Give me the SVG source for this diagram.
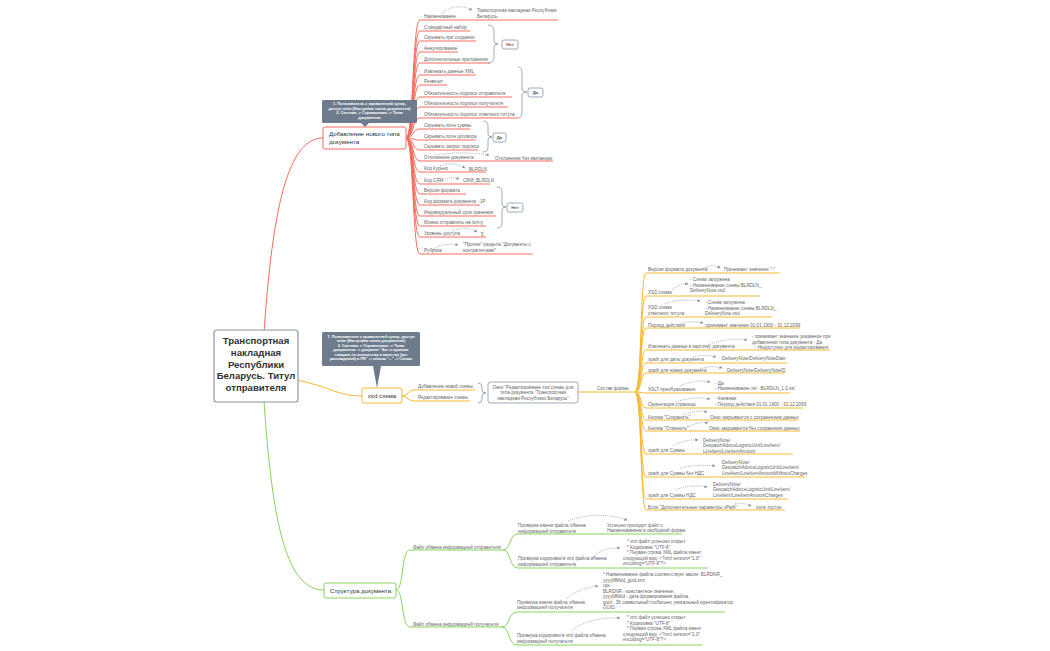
<svg xmlns="http://www.w3.org/2000/svg" width="1050" height="651" viewBox="0 0 1050 651">
<style>
.t{font-family:"Liberation Sans",Arial,sans-serif;font-size:4.6px;fill:#666}
.n{font-family:"Liberation Sans",Arial,sans-serif;font-size:6.2px;fill:#333}
.c{font-family:"Liberation Sans",Arial,sans-serif;font-size:3.8px;font-weight:bold;fill:#fff;text-anchor:middle}
.lb{font-family:"Liberation Sans",Arial,sans-serif;font-size:4.4px;font-weight:bold;fill:#555;text-anchor:middle}
.r{stroke:#f36c5e;fill:none;stroke-width:1}
.o{stroke:#f8b834;fill:none;stroke-width:1}
.g{stroke:#86d35f;fill:none;stroke-width:1}
.d{stroke:#8796aa;fill:none;stroke-width:0.8;stroke-dasharray:1 1.1;marker-end:url(#ah)}
.br{stroke:#8796aa;fill:none;stroke-width:0.8}
.bx{fill:#fff;stroke:#8796aa;stroke-width:0.8}
.co{fill:#6e7b8c}
</style>
<defs>
<marker id="ah" viewBox="0 0 6 6" refX="5" refY="3" markerWidth="4" markerHeight="4" orient="auto"><path d="M0,0 L6,3 L0,6 z" fill="#8796aa"/></marker>
</defs>
<rect width="1050" height="651" fill="#fff"/>
<g id="connectors">
<path class="r" stroke-width="2.6" d="M262 366 C270 220 285 138 323 138"/>
<path class="o" stroke-width="2.4" d="M285 378 C330 385 335 396 362 396"/>
<path class="g" stroke-width="2.6" d="M262 366 C270 520 285 590 324 590"/>
<!-- red fan -->
<path class="r" d="M406 138 C414 138 412 20 420 20 L558 20"/>
<path class="r" d="M406 138 C414 138 412 31 420 31 L470 31"/>
<path class="r" d="M406 138 C414 138 412 41 420 41 L476 41"/>
<path class="r" d="M406 138 C414 138 412 52 420 52 L458 52"/>
<path class="r" d="M406 138 C414 138 412 63 420 63 L490 63"/>
<path class="r" d="M406 138 C414 138 412 75 420 75 L476 75"/>
<path class="r" d="M406 138 C414 138 412 85 420 85 L447 85"/>
<path class="r" d="M406 138 C414 138 412 97 420 97 L512 97"/>
<path class="r" d="M406 138 C414 138 412 107 420 107 L508 107"/>
<path class="r" d="M406 138 C414 138 412 118 420 118 L518 118"/>
<path class="r" d="M406 138 C414 138 412 129 420 129 L470 129"/>
<path class="r" d="M406 138 C414 138 412 140 420 140 L476 140"/>
<path class="r" d="M406 138 C414 138 412 150 420 150 L478 150"/>
<path class="r" d="M406 138 C414 138 412 161 420 161 L553 161"/>
<path class="r" d="M406 138 C414 138 412 172 420 172 L486 172"/>
<path class="r" d="M406 138 C414 138 412 184 420 184 L490 184"/>
<path class="r" d="M406 138 C414 138 412 194 420 194 L466 194"/>
<path class="r" d="M406 138 C414 138 412 205 420 205 L480 205"/>
<path class="r" d="M406 138 C414 138 412 216 420 216 L496 216"/>
<path class="r" d="M406 138 C414 138 412 226 420 226 L486 226"/>
<path class="r" d="M406 138 C414 138 412 237 420 237 L486 237"/>
<path class="r" d="M406 138 C414 138 412 254 420 254 L533 254"/>
<!-- xsd fan -->
<path class="o" d="M402 396 C408 396 408 390 414 390 L475 390"/>
<path class="o" d="M402 396 C408 396 408 401 414 401 L470 401"/>
<path class="o" stroke-width="1.2" d="M578 392 L635 392"/>
<!-- orange fan -->
<path class="o" stroke-width="1.1" d="M635 392 C642 392 640 273 646 273 L780 273"/>
<path class="o" stroke-width="1.1" d="M635 392 C642 392 640 296 646 296 L760 296"/>
<path class="o" stroke-width="1.1" d="M635 392 C642 392 640 317 646 317 L772 317"/>
<path class="o" stroke-width="1.1" d="M635 392 C642 392 640 328 646 328 L800 328"/>
<path class="o" stroke-width="1.1" d="M635 392 C642 392 640 350 646 350 L830 350"/>
<path class="o" stroke-width="1.1" d="M635 392 C642 392 640 363 646 363 L787 363"/>
<path class="o" stroke-width="1.1" d="M635 392 C642 392 640 373 646 373 L785 373"/>
<path class="o" stroke-width="1.1" d="M635 392 C642 392 640 393 646 393 L790 393"/>
<path class="o" stroke-width="1.1" d="M635 392 C642 392 640 408 646 408 L803 408"/>
<path class="o" stroke-width="1.1" d="M635 392 C642 392 640 420 646 420 L798 420"/>
<path class="o" stroke-width="1.1" d="M635 392 C642 392 640 431 646 431 L800 431"/>
<path class="o" stroke-width="1.1" d="M635 392 C642 392 640 454 646 454 L793 454"/>
<path class="o" stroke-width="1.1" d="M635 392 C642 392 640 477 646 477 L805 477"/>
<path class="o" stroke-width="1.1" d="M635 392 C642 392 640 499 646 499 L788 499"/>
<path class="o" stroke-width="1.1" d="M635 392 C642 392 640 510 646 510 L785 510"/>
<!-- green fan -->
<path class="g" stroke-width="1.2" d="M396 590 C404 590 401 550 410 550 L503 550"/>
<path class="g" stroke-width="1.2" d="M396 590 C404 590 401 627 410 627 L502 627"/>
<path class="g" d="M503 550 C511 550 509 534 518 534 L682 534"/>
<path class="g" d="M503 550 C511 550 509 568 518 568 L708 568"/>
<path class="g" d="M502 627 C510 627 508 612 517 612 L725 612"/>
<path class="g" d="M502 627 C510 627 508 645 517 645 L702 645"/>
<!-- dotted links -->
<path class="d" d="M441 14 Q455 2 472 10"/>
<path class="d" d="M435 155 Q462 151 489 155"/>
<path class="d" d="M440 166 Q452 161 465 168"/>
<path class="d" d="M445 180 Q452 176 459 179"/>
<path class="d" d="M452 231 Q465 225 477 232"/>
<path class="d" d="M432 250 Q443 242 458 245"/>
<path class="d" d="M703 269 Q712 263 720 268"/>
<path class="d" d="M672 290 Q680 283 688 284"/>
<path class="d" d="M664 304 Q680 298 700 301"/>
<path class="d" d="M680 324 Q692 320 703 323"/>
<path class="d" d="M708 345 Q728 337 747 340"/>
<path class="d" d="M693 357 Q705 354 716 357"/>
<path class="d" d="M700 369 Q712 365 722 368"/>
<path class="d" d="M680 386 Q695 379 710 382"/>
<path class="d" d="M676 402 Q693 396 710 399"/>
<path class="d" d="M684 415 Q696 409 707 412"/>
<path class="d" d="M688 427 Q698 421 708 423"/>
<path class="d" d="M673 446 Q685 439 698 440"/>
<path class="d" d="M680 468 Q697 464 715 466"/>
<path class="d" d="M675 490 Q690 484 707 487"/>
<path class="d" d="M735 504 Q743 502 751 506"/>
<path class="d" d="M568 521 Q597 510 627 520"/>
<path class="d" d="M592 559 Q600 547 620 548"/>
<path class="d" d="M566 599 Q578 588 598 586"/>
<path class="d" d="M572 630 Q590 617 620 618"/>
<!-- braces -->
<path class="br" d="M488 25 Q494 25 494 31 L494 41 Q494 44 498 44 Q494 44 494 47 L494 57 Q494 63 488 63"/>
<path class="br" d="M518 67 Q522 67 522 73 L522 89 Q522 92 527 92 Q522 92 522 95 L522 112 Q522 118 518 118"/>
<path class="br" d="M483 121 Q488 121 488 126 L488 134 Q488 137 492 137 Q488 137 488 140 L488 147 Q488 152 483 152"/>
<path class="br" d="M497 187 Q502 187 502 192 L502 204 Q502 207 506 207 Q502 207 502 210 L502 223 Q502 228 497 228"/>
<path class="br" d="M478 383 Q482 383 482 387 L482 390 Q482 393 486 393 Q482 393 482 396 L482 399 Q482 403 478 403"/>
</g>
<g id="central">
<rect x="214" y="330" width="84" height="72" rx="3" fill="#fff" stroke="#8796aa" stroke-width="1.2"/>
<text x="256" y="344" text-anchor="middle" font-family="Liberation Sans,Arial,sans-serif" font-size="9.6" font-weight="bold" fill="#333"><tspan x="256">Транспортная</tspan><tspan x="256" dy="11.8">накладная</tspan><tspan x="256" dy="11.8">Республики</tspan><tspan x="256" dy="11.8">Беларусь. Титул</tspan><tspan x="256" dy="11.8">отправителя</tspan></text>
</g>
<g id="node-add-type">
<rect x="323" y="127" width="83" height="22" rx="2" fill="#fff" stroke="#f36c5e" stroke-width="1"/>
<text class="n" x="329" y="136">Добавление нового типа</text>
<text class="n" x="329" y="144">документа</text>
</g>
<g id="callout-1">
<rect class="co" x="322" y="100" width="95" height="23" rx="1.5"/>
<path class="co" d="M361 123 L369 123 L365 127 z"/>
<text class="c" x="369.5" y="105">1. Пользователь с привилегией супер,</text>
<text class="c" x="369.5" y="109.5">доступ write (Настройка типов документов)</text>
<text class="c" x="369.5" y="114">2. Система -&gt; Справочники -&gt; Типы</text>
<text class="c" x="369.5" y="118.5">документов</text>
</g>
<g id="red-leaves">
<text class="t" x="424" y="18">Наименование</text>
<text class="t" x="477" y="12">Транспортная накладная Республики</text>
<text class="t" x="477" y="17.5">Беларусь.</text>
<text class="t" x="424" y="29">Стандартный набор</text>
<text class="t" x="424" y="39">Скрывать при создании</text>
<text class="t" x="424" y="50">Аннулирование</text>
<text class="t" x="424" y="61">Дополнительные приложения</text>
<text class="t" x="424" y="73">Извлекать данные XML</text>
<text class="t" x="424" y="83">Реквизит</text>
<text class="t" x="424" y="95">Обязательность подписи отправителя</text>
<text class="t" x="424" y="105">Обязательность подписи получателя</text>
<text class="t" x="424" y="116">Обязательность подписи ответного титула</text>
<text class="t" x="424" y="127">Скрывать поле суммы</text>
<text class="t" x="424" y="138">Скрывать поле договора</text>
<text class="t" x="424" y="148">Скрывать запрос подписи</text>
<text class="t" x="424" y="159">Отклонение документа</text>
<text class="t" x="495" y="159.5">Отклонение без квитанции</text>
<text class="t" x="424" y="170">Код Курьер</text>
<text class="t" x="469" y="170.5">BLRDLN</text>
<text class="t" x="424" y="182">Код CRM</text>
<text class="t" x="463" y="182">CRM_BLRDLN</text>
<text class="t" x="424" y="192">Версия формата</text>
<text class="t" x="424" y="203">Код формата документа - 1P</text>
<text class="t" x="424" y="214">Индивидуальный срок хранения</text>
<text class="t" x="424" y="224">Можно отправлять на почту</text>
<text class="t" x="424" y="235">Уровень доступа</text>
<text class="t" x="481" y="235.5">5</text>
<text class="t" x="424" y="252">Рубрика</text>
<text class="t" x="463" y="246">"Прочие" раздела "Документы с</text>
<text class="t" x="463" y="251.5">контрагентами"</text>
</g>
<g id="label-net-1"><rect class="bx" x="502" y="40" width="16" height="9" rx="2"/><text class="lb" x="510" y="46">Нет</text></g>
<g id="label-da-1"><rect class="bx" x="528" y="88" width="15" height="9" rx="2"/><text class="lb" x="535.5" y="94">Да</text></g>
<g id="label-da-2"><rect class="bx" x="493" y="133" width="13" height="9" rx="2"/><text class="lb" x="499.5" y="139">Да</text></g>
<g id="label-net-2"><rect class="bx" x="507" y="203" width="16" height="9" rx="2"/><text class="lb" x="515" y="209">Нет</text></g>
<g id="callout-2">
<rect class="co" x="322" y="332" width="98" height="34" rx="1.5"/>
<path class="co" d="M373 366 L381 366 L377 388 z"/>
<text class="c" x="371" y="337.5">1. Пользователь с привилегией супер, доступ</text>
<text class="c" x="371" y="342">write (Настройка типов документов)</text>
<text class="c" x="371" y="346.5">2. Система -&gt; Справочники -&gt; Типы</text>
<text class="c" x="371" y="351">документов -&gt; документ "Акт о приемке</text>
<text class="c" x="371" y="355.5">товаров по количеству и качеству (акт</text>
<text class="c" x="371" y="360">расхождений) в РБ" -&gt; кнопка "..." -&gt; Схемы</text>
</g>
<g id="node-xsd">
<rect x="362" y="388" width="40" height="15" rx="2" fill="#fff" stroke="#f8b834" stroke-width="1"/>
<text class="n" x="382" y="397.5" text-anchor="middle">xsd схема</text>
</g>
<g id="xsd-leaves">
<text class="t" x="418" y="388">Добавление новой схемы</text>
<text class="t" x="418" y="399">Редактирование схемы</text>
</g>
<g id="node-window">
<rect class="bx" x="488" y="382" width="90" height="21" rx="2.5"/>
<text class="t" x="533" y="388.5" text-anchor="middle">Окно "Редактирование xsd схемы для</text>
<text class="t" x="533" y="394" text-anchor="middle">типа документа "Транспортная</text>
<text class="t" x="533" y="399.5" text-anchor="middle">накладная Республики Беларусь"</text>
</g>
<g id="form-leaves">
<text class="t" x="597" y="390">Состав формы</text>
<text class="t" x="648" y="271">Версия формата документа</text>
<text class="t" x="724" y="270.5">Принимает значение "-"</text>
<text class="t" x="648" y="294">XSD схема</text>
<text class="t" x="690" y="281">- Схема загружена</text>
<text class="t" x="690" y="286.5">- Наименование схемы BLRDLN_</text>
<text class="t" x="690" y="292">DeliveryNote.xsd</text>
<text class="t" x="648" y="309">XSD схема</text>
<text class="t" x="648" y="315">ответного титула</text>
<text class="t" x="705" y="304">- Схема загружена</text>
<text class="t" x="705" y="309.5">- Наименование схемы BLRDLN_</text>
<text class="t" x="705" y="315">DeliveryNote.xsd</text>
<text class="t" x="648" y="326.5">Период действия</text>
<text class="t" x="705" y="326.5">принимает значение 01.01.1900 - 31.12.2099</text>
<text class="t" x="648" y="348">Извлекать данные в карточку документа</text>
<text class="t" x="752" y="338">- принимает значение указанное при</text>
<text class="t" x="752" y="343.5">добавлении типа документа - Да</text>
<text class="t" x="755" y="349">- Недоступно для редактирования</text>
<text class="t" x="648" y="361">xpath для даты документа</text>
<text class="t" x="722" y="359.5">DeliveryNote/DeliveryNoteDate</text>
<text class="t" x="648" y="371.5">xpath для номер документа</text>
<text class="t" x="727" y="371.5">DeliveryNote/DeliveryNoteID</text>
<text class="t" x="648" y="391">XSLT-преобразование</text>
<text class="t" x="715" y="384.5">- Да</text>
<text class="t" x="715" y="390">- Наименование xsl - BLRDLN_1.0.xsl</text>
<text class="t" x="648" y="406">Ориентация страницы</text>
<text class="t" x="715" y="400">- Книжная</text>
<text class="t" x="715" y="405.5">- Период действия 01.01.1900 - 31.12.2099</text>
<text class="t" x="648" y="418.5">Кнопка "Сохранить"</text>
<text class="t" x="710" y="418.5">Окно закрывается с сохранением данных</text>
<text class="t" x="648" y="429.5">Кнопка "Отменить"</text>
<text class="t" x="709" y="429.5">Окно закрывается без сохранения данных</text>
<text class="t" x="648" y="452">xpath для Суммы</text>
<text class="t" x="703" y="441.5">DeliveryNote/</text>
<text class="t" x="703" y="447">DespatchAdviceLogisticUnit/LineItem/</text>
<text class="t" x="703" y="452.5">LineItem/LineItemAmount</text>
<text class="t" x="648" y="475">xpath для Суммы без НДС</text>
<text class="t" x="722" y="463.5">DeliveryNote/</text>
<text class="t" x="722" y="469">DespatchAdviceLogisticUnit/LineItem/</text>
<text class="t" x="722" y="474.5">LineItem/LineItemAmountWithoutCharges</text>
<text class="t" x="648" y="497">xpath для Суммы НДС</text>
<text class="t" x="713" y="485.5">DeliveryNote/</text>
<text class="t" x="713" y="491">DespatchAdviceLogisticUnit/LineItem/</text>
<text class="t" x="713" y="496.5">LineItem/LineItemAmountCharges</text>
<text class="t" x="648" y="508.5">Блок "Дополнительные параметры xPath"</text>
<text class="t" x="756" y="508.5">поле пустое</text>
</g>
<g id="node-structure">
<rect x="324" y="583" width="72" height="15" rx="2" fill="#fff" stroke="#86d35f" stroke-width="1"/>
<text class="n" x="330" y="592.5">Структура документа</text>
</g>
<g id="green-leaves">
<text class="t" x="413" y="548.5">Файл обмена информацией отправителя</text>
<text class="t" x="518" y="527">Проверка имени файла обмена</text>
<text class="t" x="518" y="532.5">информацией отправителя</text>
<text class="t" x="607" y="526.5">Успешно проходит файл с</text>
<text class="t" x="607" y="532">Наименованием в свободной форме</text>
<text class="t" x="518" y="560">Проверка кодировки в xml файла обмена</text>
<text class="t" x="518" y="565.5">информацией отправителя</text>
<text class="t" x="627" y="543">* xml файл успешно открыт</text>
<text class="t" x="627" y="548.5">* Кодировка "UTF-8"</text>
<text class="t" x="627" y="554">* Первая строка XML файла имеет</text>
<text class="t" x="623" y="559.5">следующий вид: &lt;?xml version="1.0"</text>
<text class="t" x="623" y="565">encoding="UTF-8"?&gt;</text>
<text class="t" x="413" y="625.5">Файл обмена информацией получателя</text>
<text class="t" x="517" y="603.5">Проверка имени файла обмена</text>
<text class="t" x="517" y="609">информацией получателя</text>
<text class="t" x="603" y="576">* Наименование файла соответствует маске: BLRDNR_</text>
<text class="t" x="603" y="581.5">yyyyMMdd_guid.xml,</text>
<text class="t" x="603" y="587">где</text>
<text class="t" x="603" y="592.5">BLRDNR - константное значение,</text>
<text class="t" x="603" y="598">yyyyMMdd - дата формирования файла,</text>
<text class="t" x="603" y="603.5">guid - 36 символьный глобально уникальный идентификатор</text>
<text class="t" x="603" y="609">GUID.</text>
<text class="t" x="517" y="637">Проверка кодировки в xml файла обмена</text>
<text class="t" x="517" y="642.5">информацией получателя</text>
<text class="t" x="627" y="619">* xml файл успешно открыт</text>
<text class="t" x="627" y="624.5">* Кодировка "UTF-8"</text>
<text class="t" x="627" y="630">* Первая строка XML файла имеет</text>
<text class="t" x="623" y="635.5">следующий вид: &lt;?xml version="1.0"</text>
<text class="t" x="623" y="641">encoding="UTF-8"?&gt;</text>
</g>
</svg>
